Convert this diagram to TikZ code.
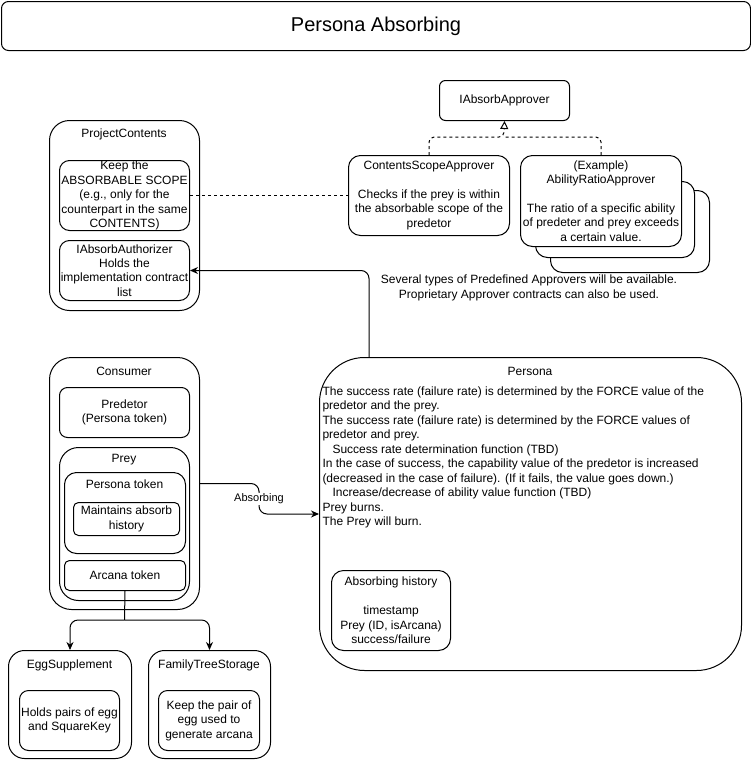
\documentclass[tikz,border=0pt]{standalone}
\usepackage{fontspec}
\setmainfont{Liberation Sans}
\usetikzlibrary{arrows.meta}
\begin{document}
\begin{tikzpicture}[x=1pt,y=-1pt,line width=1pt,
  font=\fontsize{12}{14.4}\selectfont,
  box/.style={draw,rounded corners=#1,anchor=north west,inner sep=0pt,align=center},
  box/.default=10pt,
  txt/.style={inner sep=0pt,align=center},
  link/.style={-{Stealth[length=8pt,width=7pt]},rounded corners=8pt}]
\useasboundingbox (0,0) rectangle (751,761);

% title
\node[box=7pt,minimum width=749,minimum height=49,font=\fontsize{20}{24}\selectfont]
  (title) at (1,1) {Persona Absorbing};

% ProjectContents
\node[box=20pt,minimum width=150,minimum height=190] (project) at (49,120) {};
\node[txt] (projecttitle) at (124,134) {ProjectContents};
\node[box,minimum width=130,minimum height=70] (scope) at (59,160)
  {Keep the\\ABSORBABLE SCOPE\\(e.g., only for the\\counterpart in the same\\CONTENTS)};
\node[box,minimum width=130,minimum height=60] (author) at (59,240)
  {IAbsorbAuthorizer\\Holds the\\implementation contract\\list};

% approvers
\node[box=6pt,minimum width=130,minimum height=40] (approver) at (439,80) {IAbsorbApprover};
\node[box=12pt,minimum width=161,minimum height=80] (contents) at (348,155)
  {ContentsScopeApprover\\[\baselineskip]Checks if the prey is within\\the absorbable scope of the\\predetor};
\node[box=12pt,fill=white,minimum width=159,minimum height=82] (ability3) at (550,190) {};
\node[box=12pt,fill=white,minimum width=159,minimum height=76] (ability2) at (535,181) {};
\node[box=12pt,fill=white,minimum width=161,minimum height=91] (ability) at (520,155)
  {(Example)\\AbilityRatioApprover\\[\baselineskip]The ratio of a specific ability\\of predeter and prey exceeds\\a certain value.};
\node[txt] (note) at (529,288)
  {Several types of Predefined Approvers will be available.\\Proprietary Approver contracts can also be used.};

% Consumer
\node[box=22pt,minimum width=150,minimum height=252] (consumer) at (49,357) {};
\node[txt] (consumertitle) at (124,371) {Consumer};
\node[box=8pt,minimum width=130,minimum height=50] (predetor) at (59,387)
  {Predetor\\(Persona token)};
\node[box=19pt,minimum width=130,minimum height=153] (prey) at (59,447) {};
\node[txt] (preytitle) at (124,460) {Prey};
\node[box=12pt,minimum width=121,minimum height=81] (token) at (64,472) {};
\node[txt] (tokentitle) at (124.5,484) {Persona token};
\node[box=5pt,minimum width=106,minimum height=33] (history) at (73,502)
  {Maintains absorb\\history};
\node[box=5pt,minimum width=121,minimum height=30] (arcana) at (64,560) {Arcana token};

% storages
\node[box=16pt,minimum width=123,minimum height=108] (egg) at (8,650) {};
\node[txt] (eggtitle) at (69.5,665) {EggSupplement};
\node[box=9pt,minimum width=100,minimum height=60] (eggpairs) at (19,690)
  {Holds pairs of egg\\and SquareKey};
\node[box=16pt,minimum width=122,minimum height=108] (family) at (148,650) {};
\node[txt] (familytitle) at (209,665) {FamilyTreeStorage};
\node[box=9pt,minimum width=101,minimum height=60] (familypairs) at (158,690)
  {Keep the pair of\\egg used to\\generate arcana};

% Persona
\node[box=45pt,minimum width=422,minimum height=313] (persona) at (319,357) {};
\node[txt] (personatitle) at (530,371) {Persona};
\node[txt,anchor=north west,align=left,font=\fontsize{12}{14.5}\selectfont] (rules) at (322,386)
  {The success rate (failure rate) is determined by the FORCE value of the\\
   predetor and the prey.\\
   The success rate (failure rate) is determined by the FORCE values of\\
   predetor and prey.\\
   \hspace*{10pt}Success rate determination function (TBD)\\
   In the case of success, the capability value of the predetor is increased\\
   (decreased in the case of failure). (If it fails, the value goes down.)\\
   \hspace*{10pt}Increase/decrease of ability value function (TBD)\\
   Prey burns.\\
   The Prey will burn.};
\node[box=12pt,minimum width=119,minimum height=80] (record) at (331,570)
  {Absorbing history\\[\baselineskip]timestamp\\Prey (ID, isArcana)\\success/failure};

% connectors
\coordinate (gen) at (504,137);
\draw[dashed,rounded corners=5pt,-{Triangle[open,length=8pt,width=8pt]}]
  (contents.north) |- (gen) -- (approver.south);
\draw[dashed,rounded corners=5pt] (ability.north) |- (gen);
\draw[dashed] (scope.east) -- (contents.west);

\coordinate (pstart) at (369,357);
\draw[link] (pstart) |- (author.east);

\coordinate (absmid) at (259,499);
\draw[link] (consumer.east) -| (absmid) |- (persona.west);
\node[txt,fill=white,inner sep=1pt,font=\fontsize{11}{13}\selectfont] (abslabel) at (absmid) {Absorbing};

\coordinate (split) at (124.5,620);
\draw[rounded corners=8pt] (arcana.south) -- (split);
\draw[link] (split) -| (egg.north);
\draw[link] (split) -| (family.north);
\end{tikzpicture}
\end{document}
